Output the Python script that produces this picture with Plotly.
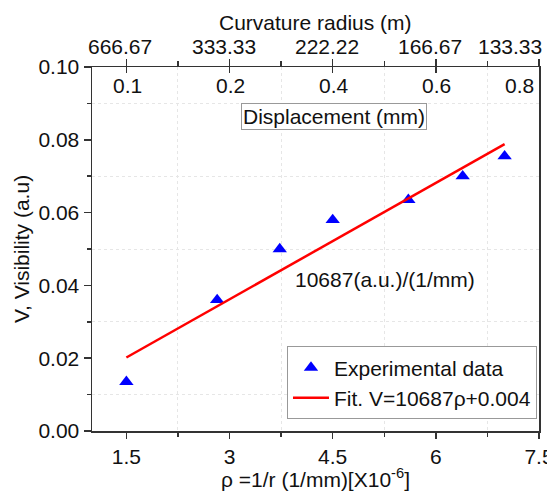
import plotly.graph_objects as go

# Data
rho = [1.5, 2.82, 3.73, 4.5, 5.6, 6.39, 7.0]
visibility = [0.0135, 0.036, 0.050, 0.058, 0.0635, 0.070, 0.0755]
fit_x = [1.5, 7.0]
fit_y = [0.0202, 0.0788]

bottom_ticks = [1.5, 3, 4.5, 6, 7.5]
bottom_ticktext = ["1.5", "3", "4.5", "6", "7.5"]
curv_ticktext = ["666.67", "333.33", "222.22", "166.67", "133.33"]
disp_ticktext = ["0.1", "0.2", "0.4", "0.6", "0.8"]
y_ticks = [0.0, 0.02, 0.04, 0.06, 0.08, 0.10]

FONT = "Liberation Sans, Arial, sans-serif"
FS = 21
AX = "#333333"

fig = go.Figure()
fig.add_trace(go.Scatter(
    x=rho, y=visibility, mode="markers", name="Experimental data",
    marker=dict(symbol="triangle-up", size=12.5, color="#0000FF"),
))
fig.add_trace(go.Scatter(
    x=fit_x, y=fit_y, mode="lines", name="Fit. V=10687\u03c1+0.004",
    line=dict(color="#FF0000", width=2.5),
))
# helper traces so the top axes are drawn
fig.add_trace(go.Scatter(x=[None], y=[None], xaxis="x2", showlegend=False, hoverinfo="skip"))
fig.add_trace(go.Scatter(x=[None], y=[None], xaxis="x3", showlegend=False, hoverinfo="skip"))

common_x = dict(range=[1, 7.5], tickvals=bottom_ticks, fixedrange=True, automargin=False)

fig.update_layout(
    width=547, height=491,
    margin=dict(l=92, r=8, t=67, b=60, autoexpand=False),
    paper_bgcolor="white", plot_bgcolor="white",
    font=dict(family=FONT, size=FS, color="#111111"),
    xaxis=dict(
        **common_x, ticktext=bottom_ticktext, ticklabeloverflow="allow",
        ticks="outside", ticklen=6, tickwidth=1.5, tickcolor=AX,
        showline=True, linecolor=AX, linewidth=1.5, showgrid=False, zeroline=False,
        minor=dict(tick0=2.25, dtick=1.5, ticks="outside", ticklen=4, tickcolor=AX,
                   showgrid=True, gridcolor="#e6e6e6", griddash="dot", gridwidth=1),
        title=dict(text="\u03c1 =1/r (1/mm)[X10<sup>-6</sup>]", standoff=2,
                   font=dict(size=FS)),
        tickfont=dict(size=FS),
    ),
    xaxis2=dict(
        **common_x, overlaying="x", side="top", anchor="y",
        showticklabels=False,
        ticks="outside", ticklen=7, tickwidth=1.5, tickcolor=AX,
        showline=True, linecolor=AX, linewidth=1.5, showgrid=False, zeroline=False,
        minor=dict(tick0=2.25, dtick=1.5, ticks="outside", ticklen=5, tickcolor=AX),
    ),
    xaxis3=dict(
        **common_x, overlaying="x", side="top", anchor="y",
        ticks="inside", ticklen=6, tickwidth=1.5, tickcolor=AX,
        showticklabels=False, showline=False, showgrid=False, zeroline=False,
    ),
    yaxis=dict(
        range=[0, 0.10], tickvals=y_ticks, tickformat=".2f", fixedrange=True,
        automargin=False,
        ticks="outside", ticklen=7, tickwidth=1.5, tickcolor=AX,
        showline=True, linecolor=AX, linewidth=1.5, mirror=True,
        showgrid=False, zeroline=False,
        minor=dict(tick0=0.01, dtick=0.02, ticks="outside", ticklen=4, tickcolor=AX,
                   showgrid=True, gridcolor="#e6e6e6", griddash="dot", gridwidth=1),
        title=dict(text="V, Visibility (a.u)", standoff=3, font=dict(size=FS)),
        tickfont=dict(size=FS),
    ),
    legend=dict(
        x=0.9955, y=0.032, xanchor="right", yanchor="bottom",
        bgcolor="white", bordercolor="#999999", borderwidth=1,
        font=dict(size=FS), tracegroupgap=0, itemwidth=36,
    ),
    showlegend=True,
)

# Curvature radius tick labels (top axis, outside)
for i, (xv, t) in enumerate(zip(bottom_ticks, curv_ticktext)):
    last = i == len(bottom_ticks) - 1
    fig.add_annotation(
        x=xv, y=1.0, xref="x", yref="paper", text=t, showarrow=False,
        xanchor="right" if last else "center", yanchor="bottom",
        xshift=5 if last else -6, yshift=7, font=dict(size=FS),
    )

fig.add_annotation(
    x=0.5, y=1.0, xref="paper", yref="paper", text="Curvature radius (m)",
    showarrow=False, xanchor="center", yanchor="bottom", yshift=31,
    font=dict(size=FS),
)

# Displacement tick labels (inside top axis)
for i, (xv, t) in enumerate(zip(bottom_ticks, disp_ticktext)):
    last = i == len(bottom_ticks) - 1
    fig.add_annotation(
        x=xv, y=0.948, xref="x", yref="paper", text=t, showarrow=False,
        xanchor="right" if last else "center", yanchor="middle",
        xshift=-3 if last else 1, font=dict(size=FS),
    )

fig.add_annotation(
    x=4.52, y=0.865, xref="x", yref="paper", text="Displacement (mm)", showarrow=False,
    bordercolor="#999999", borderwidth=1, borderpad=1, bgcolor="white",
    font=dict(size=FS), xanchor="center", yanchor="middle",
)

fig.add_annotation(
    x=5.26, y=0.0415, xref="x", yref="y", text="10687(a.u.)/(1/mm)", showarrow=False,
    font=dict(size=FS), xanchor="center", yanchor="middle",
)

fig.write_html(
    "out.html",
    config={"displayModeBar": False, "staticPlot": True},
    post_script="document.body.style.margin='0';",
)
